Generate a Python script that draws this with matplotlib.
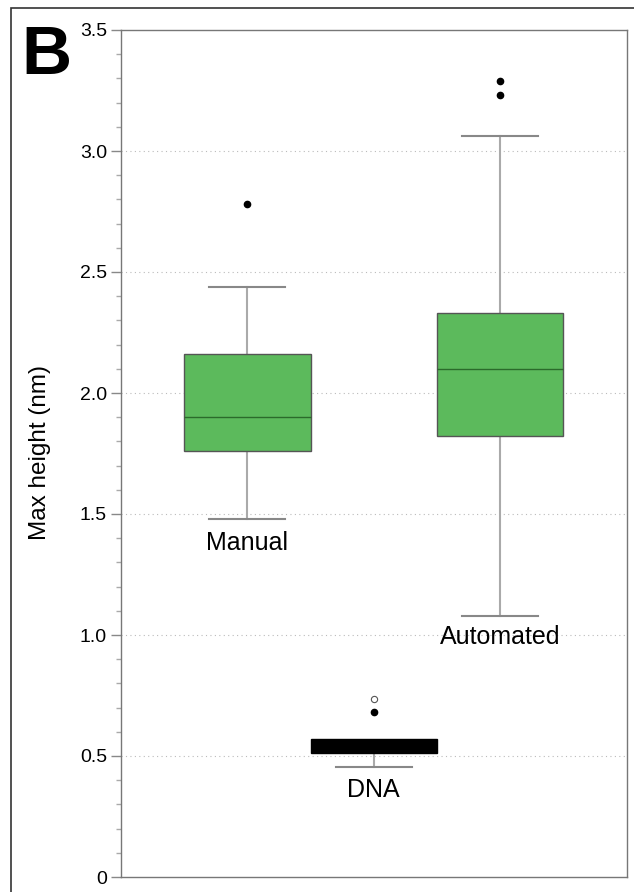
import matplotlib.pyplot as plt
from matplotlib.patches import Rectangle
from matplotlib.ticker import MultipleLocator

plt.rcParams['font.family'] = ['Liberation Sans', 'DejaVu Sans']

# box statistics (nm)
groups = ['Manual', 'DNA', 'Automated']
q1 = [1.76, 0.514, 1.822]
med = [1.90, 0.54, 2.099]
q3 = [2.16, 0.569, 2.329]
whislo = [1.479, 0.455, 1.079]
whishi = [2.438, 0.569, 3.061]
outliers = [[2.781], [0.681], [3.289, 3.230]]
far_outliers = [[], [0.737], []]
label_y = [1.38, 0.36, 0.99]

fig = plt.figure(figsize=(6.34, 8.92), dpi=100)
ax = fig.add_axes([121 / 634, 1 - 877 / 892, (626.5 - 121) / 634, (877 - 30) / 892])

stats = []
for i, g in enumerate(groups):
    stats.append({'label': g, 'q1': q1[i], 'med': med[i], 'q3': q3[i],
                  'whislo': whislo[i], 'whishi': whishi[i], 'fliers': outliers[i]})

bp = ax.bxp(stats, positions=[1, 2, 3], widths=1.0, patch_artist=True,
            showfliers=True, capwidths=0.6,
            boxprops=dict(edgecolor='#555555', linewidth=1.0),
            medianprops=dict(color='#2b6b2b', linewidth=1.0),
            whiskerprops=dict(color='#aaaaaa', linewidth=1.5),
            capprops=dict(color='#888888', linewidth=1.5),
            flierprops=dict(marker='o', markerfacecolor='black', markeredgecolor='black',
                            markersize=4.5, linestyle='none'))
box_colors = ['#5cba5c', 'black', '#5cba5c']
for patch, c in zip(bp['boxes'], box_colors):
    patch.set_facecolor(c)
    patch.set_zorder(3)
for line in bp['medians']:
    line.set_zorder(4)
# DNA box is drawn solid black
bp['boxes'][1].set_edgecolor('black')
bp['medians'][1].set_color('black')
bp['caps'][3].set_visible(False)

# extreme outliers drawn as open circles
for i, vals in enumerate(far_outliers):
    for v in vals:
        ax.plot(i + 1, v, 'o', markerfacecolor='white', markeredgecolor='#555555',
                markersize=4.5, markeredgewidth=0.8)

for i, g in enumerate(groups):
    ax.text(i + 1, label_y[i], g, ha='center', va='center', fontsize=18)

ax.set_xlim(0, 4)
ax.set_ylim(0, 3.5)
ax.set_xticks([])
ax.yaxis.set_minor_locator(MultipleLocator(0.1))
ax.set_yticks([0, 0.5, 1.0, 1.5, 2.0, 2.5, 3.0, 3.5])
ax.set_yticklabels(['0', '0.5', '1.0', '1.5', '2.0', '2.5', '3.0', '3.5'], fontsize=14)
ax.tick_params(axis='y', which='major', length=7, width=1, color='#888888', pad=3)
ax.tick_params(axis='y', which='minor', length=3.5, width=1, color='#aaaaaa')
for s in ax.spines.values():
    s.set_color('#777777')
    s.set_linewidth(1.0)

for y in [0.5, 1.0, 1.5, 2.0, 2.5, 3.0]:
    ax.axhline(y, color='#bbbbbb', linestyle=(0, (1, 3)), linewidth=0.8, zorder=0)

fig.text(40 / 634, 1 - 453 / 892, 'Max height (nm)', rotation=90, ha='center', va='center',
         fontsize=17.5)
fig.text(46 / 634, 1 - 56 / 892, 'B', ha='center', va='center', fontsize=50,
         fontweight='bold')

fig.patches.append(Rectangle((11 / 634, -0.1), 1.1, 1 - 8 / 892 + 0.1,
                             transform=fig.transFigure, fill=False,
                             edgecolor='#333333', linewidth=1.2))

fig.savefig('out.png', dpi=100)
